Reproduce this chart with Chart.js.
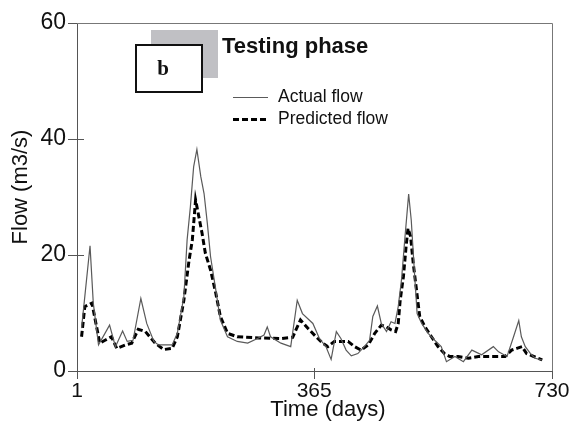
<!DOCTYPE html>
<html>
<head>
<meta charset="utf-8">
<script src="https://cdn.jsdelivr.net/npm/chart.js@4.4.1/dist/chart.umd.min.js"></script>
<style>
  html, body { margin: 0; padding: 0; background: #fff; }
  #wrap { width: 571px; height: 429px; position: relative; }
</style>
</head>
<body>
<div id="wrap"><canvas id="flowChart"></canvas></div>
<script>
// testing phase: actual vs predicted flow
const actualDays = [8,21,26,34,51,60,71,78,87,99,108,119,126,147,155,165,170,175,180,185,191,196,201,206,214,221,232,247,263,278,288,293,298,314,329,339,347,363,373,383,391,399,406,414,422,432,442,450,455,462,468,476,483,489,494,499,504,510,514,519,523,530,540,550,560,568,581,594,607,622,640,648,661,671,679,683,689,697,704,715];
const actualFlow = [7.4,21.6,11.7,4.5,7.9,4.2,6.9,5.1,5.3,12.5,8.2,5.1,4.5,4.5,6.5,12.8,22.6,28.3,35.2,38.2,33.5,30.6,25.5,19.7,14.0,8.8,5.9,5.1,4.8,5.6,6.2,7.6,5.9,4.8,4.2,12.2,9.9,8.2,5.6,4.2,2.0,6.8,5.6,3.6,2.6,3.0,4.2,5.3,9.4,11.2,8.2,6.8,8.5,8.2,11.1,15.7,22.6,30.5,26.0,16.8,9.9,8.2,6.5,5.3,4.2,1.6,2.5,1.6,3.6,2.8,4.2,3.3,2.5,5.9,8.7,5.9,4.2,3.0,2.2,1.9];

const predictedDays = [8,13,24,29,36,44,54,62,75,85,95,106,121,134,147,155,165,173,178,183,188,193,198,206,214,221,232,247,280,314,332,337,344,355,368,378,386,396,417,427,437,448,458,468,476,483,490,494,497,502,506,509,513,517,522,527,535,545,555,565,573,586,602,617,658,668,676,684,691,702,715];
const predictedFlow = [5.9,11.1,11.7,8.8,4.8,5.3,5.9,3.9,4.5,4.8,7.2,6.8,4.8,3.7,3.9,5.9,12.2,19.1,22.6,29.5,26.6,23.7,20.3,17.4,13.4,9.4,6.5,5.9,5.7,5.6,5.8,7.1,8.8,7.4,5.9,4.8,4.2,5.1,5.1,4.2,3.6,4.5,6.5,7.9,7.6,7.1,6.8,8.2,12.2,16.3,21.4,24.6,23.2,18.6,14.0,9.4,7.6,5.9,4.2,3.0,2.5,2.5,2.2,2.5,2.5,3.6,3.9,4.2,3.0,2.5,1.9];

const xTicks = [1, 365, 730];
const yTicks = [0, 20, 40, 60];

const FONT = 'Liberation Sans, Arial, sans-serif';
const AXIS = '#555';

function pairs(xs, ys){ return xs.map((x, i) => ({x: x, y: ys[i]})); }

// frame, crossing ticks, titles, inset legend and the "b" panel tag
const decor = {
  id: 'decor',
  afterDraw(chart){
    const c = chart.ctx, a = chart.chartArea;
    const xs = chart.scales.x, ys = chart.scales.y;
    c.save();
    // top + right frame
    c.strokeStyle = '#777'; c.lineWidth = 1;
    c.beginPath();
    c.moveTo(a.left, a.top + 0.5); c.lineTo(a.right + 0.5, a.top + 0.5);
    c.lineTo(a.right + 0.5, a.bottom);
    c.stroke();
    // inner halves of the ticks
    c.strokeStyle = AXIS;
    c.beginPath();
    [20, 40].forEach(v => {
      const y = Math.round(ys.getPixelForValue(v)) + 0.5;
      c.moveTo(a.left, y); c.lineTo(a.left + 7, y);
    });
    const tx = Math.round(xs.getPixelForValue(365)) + 0.5;
    c.moveTo(tx, a.bottom); c.lineTo(tx, a.bottom - 3);
    c.stroke();

    // axis titles
    c.fillStyle = '#111';
    c.font = '22px ' + FONT;
    c.textAlign = 'center'; c.textBaseline = 'middle';
    c.fillText('Time (days)', 328, 410);
    c.save();
    c.translate(21, 187); c.rotate(-Math.PI / 2);
    c.fillText('Flow (m3/s)', 0, 0);
    c.restore();

    // panel tag
    c.fillStyle = '#c0c0c4';
    c.fillRect(151, 30, 67, 48);
    c.fillStyle = '#fff';
    c.fillRect(136, 45, 66, 47);
    c.strokeStyle = '#111'; c.lineWidth = 2;
    c.strokeRect(136, 45, 66, 47);
    c.fillStyle = '#111';
    c.font = 'bold 21px "Liberation Serif", "Times New Roman", serif';
    c.fillText('b', 163, 70);

    // heading
    c.textAlign = 'left';
    c.font = 'bold 22px ' + FONT;
    c.fillText('Testing phase', 222, 47);

    // legend
    const ds = chart.data.datasets;
    const rows = [{y: 97, d: ds[0]}, {y: 119, d: ds[1]}];
    c.font = '17.5px ' + FONT;
    rows.forEach(r => {
      c.strokeStyle = r.d.borderColor;
      c.lineWidth = r.d.borderWidth;
      c.setLineDash(r.d.borderDash || []);
      c.beginPath();
      c.moveTo(233, r.y + 0.5); c.lineTo(268, r.y + 0.5);
      c.stroke();
      c.setLineDash([]);
      c.fillStyle = '#111';
      c.fillText(r.d.label, 278, r.y);
    });
    c.restore();
  }
};

new Chart(document.getElementById('flowChart'), {
  type: 'line',
  data: {
    datasets: [
      {
        label: 'Actual flow',
        data: pairs(actualDays, actualFlow),
        borderColor: '#5a5a5a',
        borderWidth: 1.2,
        pointRadius: 0,
        tension: 0
      },
      {
        label: 'Predicted flow',
        data: pairs(predictedDays, predictedFlow),
        borderColor: '#000',
        borderWidth: 3,
        borderDash: [6, 3],
        pointRadius: 0,
        tension: 0
      }
    ]
  },
  options: {
    responsive: true,
    maintainAspectRatio: false,
    animation: false,
    layout: { padding: { left: 0, top: 23, right: 19, bottom: 0 } },
    plugins: {
      legend: { display: false },
      tooltip: { enabled: false }
    },
    scales: {
      x: {
        type: 'linear',
        min: 1, max: 730,
        afterBuildTicks: s => { s.ticks = xTicks.map(v => ({value: v})); },
        afterFit: s => { s.height = 58; s.paddingLeft = 0; s.paddingRight = 0; },
        ticks: {
          autoSkip: false, maxRotation: 0, padding: 0,
          color: '#111', font: { family: FONT, size: 21 }
        },
        grid: { drawOnChartArea: false, drawTicks: true, tickLength: 8, color: AXIS },
        border: { display: true, color: AXIS, width: 1 }
      },
      y: {
        min: 0, max: 60,
        afterBuildTicks: s => { s.ticks = yTicks.map(v => ({value: v})); },
        afterFit: s => { s.width = 77; },
        ticks: {
          padding: 2,
          color: '#111', font: { family: FONT, size: 23 }
        },
        grid: { drawOnChartArea: false, drawTicks: true, tickLength: 9, color: AXIS },
        border: { display: true, color: AXIS, width: 1 }
      }
    }
  },
  plugins: [decor]
});
</script>
</body>
</html>
